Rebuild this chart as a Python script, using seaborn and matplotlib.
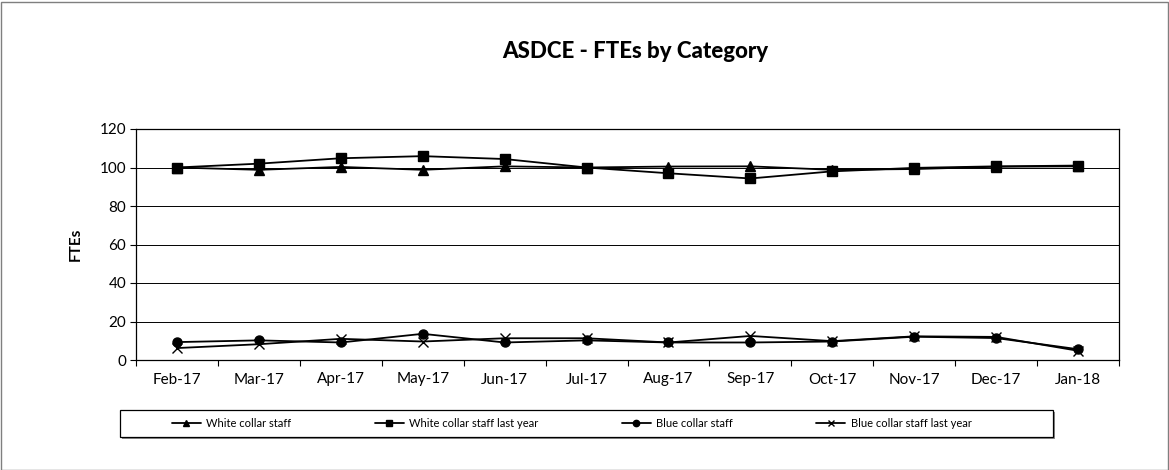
import pandas as pd
import numpy as np
import matplotlib
matplotlib.use("Agg")
import matplotlib.pyplot as plt
import seaborn as sns
from matplotlib.patches import Rectangle

months = ["Feb-17", "Mar-17", "Apr-17", "May-17", "Jun-17", "Jul-17",
          "Aug-17", "Sep-17", "Oct-17", "Nov-17", "Dec-17", "Jan-18"]

white_collar = [100, 98.8, 100.3, 98.8, 100.6, 100, 100.5, 100.6, 98.8, 99.2, 100.4, 100.6]
white_collar_ly = [100, 102, 104.8, 105.9, 104.4, 100, 97, 94.3, 98, 99.8, 100.6, 101]
blue_collar = [9.3, 10.2, 9.1, 13.6, 9.1, 10.2, 9.1, 9.1, 9.6, 12.1, 11.4, 5.6]
blue_collar_ly = [6.2, 8.2, 11, 9.6, 11.3, 11.3, 9.1, 12.5, 9.8, 12.3, 12, 4.8]

series = {
    "White collar staff": white_collar,
    "White collar staff last year": white_collar_ly,
    "Blue collar staff": blue_collar,
    "Blue collar staff last year": blue_collar_ly,
}

# long form table for seaborn
rows = []
for name, vals in series.items():
    for i, v in enumerate(vals):
        rows.append({"pos": i, "month": months[i], "series": name, "FTEs": v})
data = pd.DataFrame(rows)

sns.set_theme(style="white")
plt.rcParams["font.family"] = ["Lato", "DejaVu Sans"]

fig = plt.figure(figsize=(11.69, 4.70), dpi=100)
ax = fig.add_axes([136/1169, 110/470, (1119-136)/1169, (360-129)/470])

markers = {"White collar staff": "^", "White collar staff last year": "s",
           "Blue collar staff": "o", "Blue collar staff last year": "x"}
sizes = {"^": 7, "s": 7, "o": 6.5, "x": 7}

for name in series:
    sub = data[data["series"] == name]
    m = markers[name]
    sns.lineplot(data=sub, x="pos", y="FTEs", ax=ax, color="black", lw=1.3,
                 marker=m, markersize=sizes[m], markeredgecolor="black",
                 markerfacecolor="black", markeredgewidth=1.0, label=name,
                 legend=False)

ax.set_xlim(-0.5, 11.5)
ax.set_ylim(0, 120)
ax.set_yticks(np.arange(0, 121, 20))
ax.set_xticks(range(len(months)))
ax.set_xticklabels(months)
ax.set_xticks(np.arange(-0.5, 12, 1), minor=True)
ax.tick_params(axis="x", which="major", length=0, pad=9, labelsize=11, labelcolor="black")
ax.tick_params(axis="x", which="minor", length=4, width=0.8, color="black", bottom=True)
ax.tick_params(axis="y", length=4, width=0.8, color="black", left=True, labelsize=11,
               labelcolor="black", pad=3)
ax.grid(axis="y", color="black", lw=0.7)
ax.set_axisbelow(True)
for s in ax.spines.values():
    s.set_color("black")
    s.set_linewidth(0.9)
ax.set_xlabel("")
ax.set_ylabel("FTEs", fontsize=11, fontweight="bold", color="black", labelpad=12)

fig.text(635/1169, 1 - 52/470, "ASDCE - FTEs by Category", ha="center", va="center",
         fontsize=16, fontweight="black", color="black")

# legend box with shadow
fig.patches.append(Rectangle((122/1169, 1 - 439/470), 933/1169, 27/470,
                             transform=fig.transFigure, facecolor="#8c8c8c",
                             edgecolor="none", zorder=0))
fig.patches.append(Rectangle((120/1169, 1 - 437/470), 933/1169, 27/470,
                             transform=fig.transFigure, facecolor="white",
                             edgecolor="black", lw=0.9, zorder=1))

handles, labels = ax.get_legend_handles_labels()
leg = fig.legend(handles, labels, loc="center left", ncol=4,
                 bbox_to_anchor=(172/1169, 1 - 423.5/470), frameon=False,
                 fontsize=8, handlelength=2.6, handletextpad=0.5, labelcolor="black",
                 columnspacing=7.5, borderpad=0, borderaxespad=0, markerscale=0.7)
leg.set_zorder(2)

# outer chart border
fig.patches.append(Rectangle((0.5/1169, 0.5/470), 1167/1169, 468/470,
                             transform=fig.transFigure, facecolor="none",
                             edgecolor="#7f7f7f", lw=1.0))

fig.savefig("out.png", dpi=100)
